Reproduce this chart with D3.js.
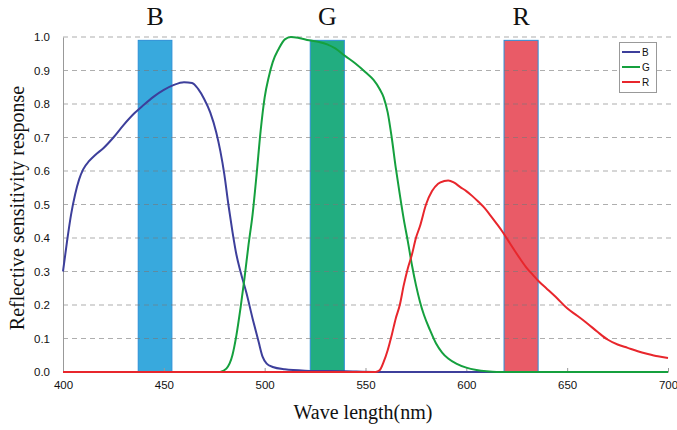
<!DOCTYPE html>
<html><head><meta charset="utf-8">
<script src="https://cdn.jsdelivr.net/npm/d3@7"></script>
<style>body{margin:0;background:#fff}svg{display:block}</style>
</head><body>
<svg id="c" width="677" height="430"></svg>
<script>
const xTicks = [400,450,500,550,600,650,700];
const yTicks = [0,0.1,0.2,0.3,0.4,0.5,0.6,0.7,0.8,0.9,1.0];
const bandNames = ["B","G","R"];
const bandStart = [437.3,522.6,618.7];
const bandEnd = [454.0,539.5,635.6];
const bandTop = [0.99,0.99,0.99];
const bandColors = ["#38a9dd","#22ad80","#e95b67"];
const seriesNames = ["B","G","R"];
const seriesColors = ["#3d3f9b","#15a03e","#e8262c"];
const bWave = [400,402,404,406,408,410,413,416,420,425,430,435,440,445,450,455,460,464,467,470,473,476,478,480,482,484,486,488,491,494,497,499,501,504,510,520,540,555,700];
const bVal  = [0.30,0.39,0.47,0.53,0.575,0.605,0.63,0.648,0.668,0.70,0.737,0.77,0.797,0.822,0.842,0.857,0.865,0.863,0.845,0.815,0.775,0.715,0.66,0.59,0.50,0.42,0.35,0.30,0.235,0.16,0.09,0.045,0.025,0.015,0.008,0.004,0.002,0,0];
const gWave = [478,481,484,486,488,490,492,494,496,498,500,502,504,507,510,513,517,522,527,531,535,540,545,550,554,557,559,561,563,565,567,569,571,573,575,577,579,582,585,588,591,595,600,605,610,615,700];
const gVal  = [0,0.01,0.05,0.11,0.19,0.28,0.38,0.47,0.59,0.72,0.82,0.88,0.925,0.965,0.993,1.0,0.997,0.99,0.985,0.978,0.966,0.943,0.921,0.895,0.872,0.845,0.82,0.775,0.70,0.61,0.53,0.455,0.39,0.32,0.26,0.21,0.17,0.125,0.085,0.058,0.04,0.025,0.013,0.006,0.002,0,0];
const rWave = [400,555,557,559,561,563,565,567,569,571,573,575,577,580,583,586,589,591,594,597,600,603,606,609,612,615,618,621,624,627,630,633,636,640,645,650,655,660,665,670,675,680,685,690,695,700];
const rVal  = [0,0,0.005,0.03,0.065,0.11,0.16,0.2,0.26,0.31,0.35,0.40,0.435,0.50,0.54,0.562,0.57,0.572,0.565,0.552,0.54,0.525,0.508,0.49,0.467,0.443,0.418,0.39,0.362,0.335,0.31,0.29,0.27,0.248,0.22,0.19,0.168,0.145,0.12,0.097,0.082,0.072,0.062,0.054,0.047,0.042];

const svg = d3.select("#c");
const x = d3.scaleLinear().domain([400,700]).range([63,668]);
const y = d3.scaleLinear().domain([0,1]).range([372,37]);
const serif = "'Liberation Serif','Times New Roman',serif";
const sans = "'Liberation Sans',Arial,sans-serif";

// bands
const bands = bandNames.map((n,i)=>({n, s:bandStart[i], e:bandEnd[i], t:bandTop[i], c:bandColors[i]}));
svg.append("g").selectAll("rect").data(bands).join("rect")
  .attr("x",d=>x(d.s)).attr("y",d=>y(d.t))
  .attr("width",d=>x(d.e)-x(d.s)).attr("height",d=>y(0)-y(d.t))
  .attr("fill",d=>d.c).attr("stroke","#2b8fd6").attr("stroke-width",1);

// gridlines
svg.append("g").selectAll("line").data(yTicks.filter(v=>v>0)).join("line")
  .attr("x1",x(400)).attr("x2",672).attr("y1",d=>y(d)).attr("y2",d=>y(d))
  .attr("stroke","rgba(120,120,120,0.6)").attr("stroke-width",1.2).attr("stroke-dasharray","5,4");

// axes
const xAxis = svg.append("g").attr("transform",`translate(0,${y(0)})`)
  .call(d3.axisBottom(x).tickValues(xTicks).tickSize(0).tickPadding(9).tickFormat(d3.format("d")));
xAxis.select(".domain").attr("stroke","#999");
xAxis.selectAll(".tick").append("line").attr("y1",0).attr("y2",-4).attr("stroke","#999");
xAxis.selectAll("text").attr("font-family",sans).attr("font-size",11.5).attr("fill","#111");

const yAxis = svg.append("g").attr("transform",`translate(${x(400)},0)`)
  .call(d3.axisLeft(y).tickValues(yTicks).tickSize(0).tickPadding(13).tickFormat(d3.format(".1f")));
yAxis.select(".domain").attr("stroke","#999");
yAxis.selectAll("text").attr("font-family",sans).attr("font-size",11.5).attr("fill","#111");

// curves
const series = [
  {n:"B", c:seriesColors[0], d:bWave.map((w,i)=>[w,bVal[i]])},
  {n:"G", c:seriesColors[1], d:gWave.map((w,i)=>[w,gVal[i]])},
  {n:"R", c:seriesColors[2], d:rWave.map((w,i)=>[w,rVal[i]])}
];
const line = d3.line().x(d=>x(d[0])).y(d=>y(d[1])).curve(d3.curveMonotoneX);
svg.append("g").selectAll("path").data(series).join("path")
  .attr("d",d=>line(d.d)).attr("fill","none").attr("stroke",d=>d.c).attr("stroke-width",2);

// band letters
svg.append("g").selectAll("text").data(bands).join("text")
  .attr("x",d=>(x(d.s)+x(d.e))/2).attr("y",25).attr("text-anchor","middle")
  .attr("font-family",serif).attr("font-size",26).attr("fill","#111").text(d=>d.n);

// legend
const lg = svg.append("g");
lg.append("rect").attr("x",619.5).attr("y",42.5).attr("width",37).attr("height",50)
  .attr("fill","#fff").attr("stroke","#999");
seriesNames.forEach((n,i)=>{
  const yy = 52 + i*15;
  lg.append("line").attr("x1",622).attr("x2",640).attr("y1",yy).attr("y2",yy)
    .attr("stroke",seriesColors[i]).attr("stroke-width",2);
  lg.append("text").attr("x",642).attr("y",yy+3.5).attr("font-family",sans)
    .attr("font-size",10).attr("fill","#111").text(n);
});

// axis titles
svg.append("text").attr("x",363).attr("y",419).attr("text-anchor","middle")
  .attr("font-family",serif).attr("font-size",20).attr("fill","#111").text("Wave length(nm)");
svg.append("text").attr("transform","translate(24,208) rotate(-90)").attr("text-anchor","middle")
  .attr("font-family",serif).attr("font-size",20).attr("fill","#111").text("Reflective sensitivity response");
</script>
</body></html>
